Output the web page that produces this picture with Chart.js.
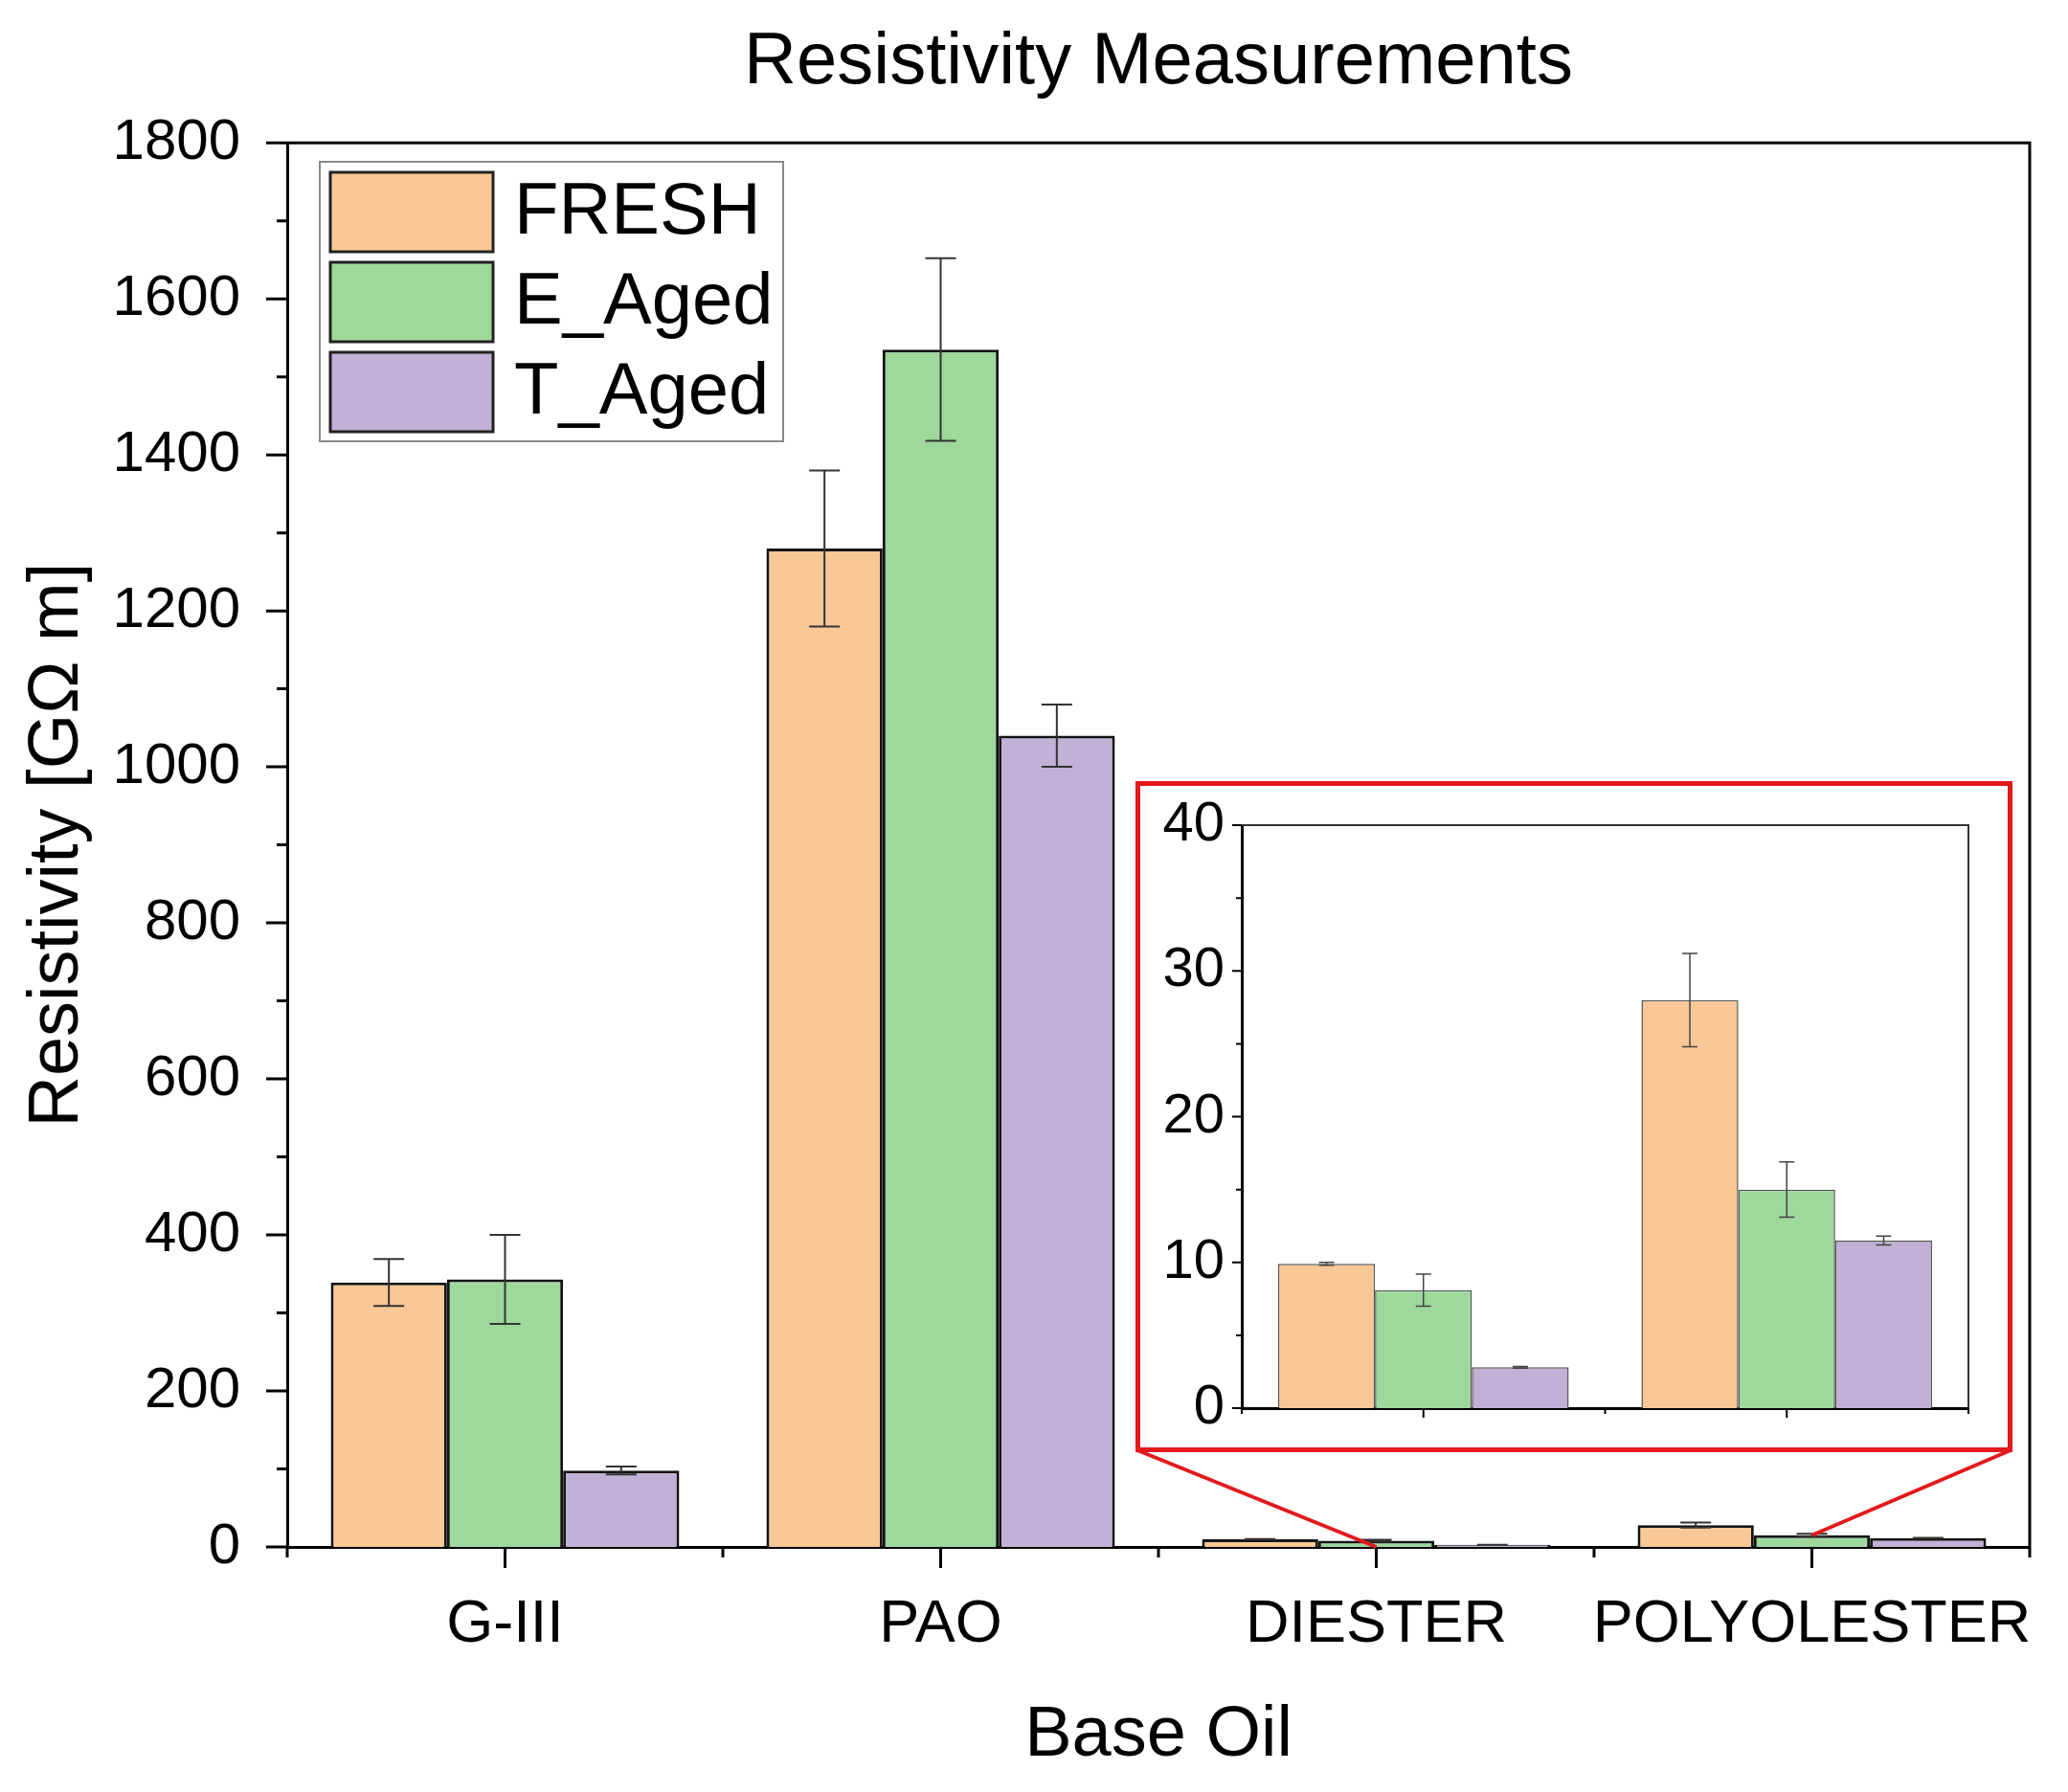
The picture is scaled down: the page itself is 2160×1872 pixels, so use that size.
<!DOCTYPE html>
<html>
<head>
<meta charset="utf-8">
<script src="https://cdn.jsdelivr.net/npm/chart.js@4.4.1/dist/chart.umd.min.js"></script>
<style>
  html, body { margin: 0; padding: 0; background: #fff; }
  #wrap { position: relative; width: 2160px; height: 1872px; }
  #main { position: absolute; left: 0; top: 0; }
  #insetBox {
    position: absolute; left: 1186px; top: 816px; width: 916px; height: 701px;
    border: 5px solid #e3191c; box-sizing: border-box; background: #fff; overflow: hidden;
  }
  #inset { position: absolute; left: 0; top: -40px; }
</style>
</head>
<body>
<div id="wrap">
  <canvas id="main" width="2160" height="1872"></canvas>
  <div id="insetBox"><canvas id="inset" width="906" height="771"></canvas></div>
</div>
<script>
// Values (G-Ohm m)
const categories = ["G-III", "PAO", "DIESTER", "POLYOLESTER"];
const seriesNames = ["FRESH", "E_Aged", "T_Aged"];
const fresh    = [339, 1280, 9.9, 28.0];
const freshErr = [30, 100, 0.1, 3.2];
const eAged    = [343, 1535, 8.1, 15.0];
const eAgedErr = [57, 117, 1.1, 1.9];
const tAged    = [98, 1040, 2.8, 11.5];
const tAgedErr = [5, 40, 0.05, 0.3];

// zoomed inset shows the last two oils
const insetIdx = [2, 3];
const mainYMax = 1800, mainYStep = 200;
const insetYMax = 40, insetYStep = 10;

const fills = ["#f9c896", "#9ed89b", "#c1b1d6"];
const FONT = "'Liberation Sans', Arial, sans-serif";
Chart.defaults.font.family = FONT;
Chart.defaults.color = "#000";

function makeDatasets(idx, border, bw) {
  const vals = [fresh, eAged, tAged];
  const errs = [freshErr, eAgedErr, tAgedErr];
  return seriesNames.map((name, s) => ({
    label: name,
    data: idx.map(i => vals[s][i]),
    errors: idx.map(i => errs[s][i]),
    backgroundColor: fills[s],
    borderColor: border,
    borderWidth: bw,
    categoryPercentage: 0.8,
    barPercentage: 1.0
  }));
}

// error bars drawn through the y scale
const errorBars = {
  id: "errorBars",
  afterDatasetsDraw(chart, args, o) {
    const ctx = chart.ctx, y = chart.scales.y;
    ctx.save();
    ctx.strokeStyle = o.color;
    ctx.lineWidth = o.width;
    chart.data.datasets.forEach((ds, i) => {
      chart.getDatasetMeta(i).data.forEach((bar, j) => {
        const v = ds.data[j], e = ds.errors[j];
        const t = y.getPixelForValue(v + e), b = y.getPixelForValue(v - e);
        ctx.beginPath();
        ctx.moveTo(bar.x, t); ctx.lineTo(bar.x, b);
        ctx.moveTo(bar.x - o.cap, t); ctx.lineTo(bar.x + o.cap, t);
        ctx.moveTo(bar.x - o.cap, b); ctx.lineTo(bar.x + o.cap, b);
        ctx.stroke();
      });
    });
    ctx.restore();
  }
};

// Origin-style frame: top/right border, outward major + minor ticks
const frameTicks = {
  id: "frameTicks",
  afterDraw(chart, args, o) {
    const { ctx, chartArea: a, scales: { x, y } } = chart;
    ctx.save();
    ctx.strokeStyle = o.frameColor;
    ctx.lineWidth = o.frameWidth;
    ctx.beginPath();
    ctx.moveTo(a.left, a.top); ctx.lineTo(a.right, a.top); ctx.lineTo(a.right, a.bottom);
    ctx.stroke();
    ctx.strokeStyle = "#000";
    ctx.lineWidth = o.tickWidth;
    ctx.beginPath();
    const yv = y.ticks.map(t => t.value);
    yv.forEach(v => {
      const p = y.getPixelForValue(v);
      ctx.moveTo(a.left - o.major, p); ctx.lineTo(a.left, p);
    });
    for (let i = 0; i < yv.length - 1; i++) {
      const p = y.getPixelForValue((yv[i] + yv[i + 1]) / 2);
      ctx.moveTo(a.left - o.minor, p); ctx.lineTo(a.left, p);
    }
    const n = x.ticks.length;
    for (let i = 0; i < n; i++) {
      const p = x.getPixelForTick(i);
      ctx.moveTo(p, a.bottom); ctx.lineTo(p, a.bottom + o.major);
    }
    for (let i = 0; i <= n; i++) {
      const p = x.getPixelForValue(i - 0.5);
      ctx.moveTo(p, a.bottom); ctx.lineTo(p, a.bottom + o.minor);
    }
    ctx.stroke();
    ctx.restore();
  }
};

// framed legend in the top-left of the plot
const boxLegend = {
  id: "boxLegend",
  afterDraw(chart, args, o) {
    const ctx = chart.ctx;
    ctx.save();
    ctx.strokeStyle = "#8a8a8a";
    ctx.lineWidth = 2;
    ctx.strokeRect(o.x, o.y, o.w, o.h);
    ctx.font = o.fontSize + "px " + FONT;
    ctx.textBaseline = "middle";
    chart.data.datasets.forEach((ds, i) => {
      const top = o.y + o.pad + i * o.row;
      ctx.fillStyle = ds.backgroundColor;
      ctx.fillRect(o.x + o.pad, top, o.sw, o.sh);
      ctx.strokeStyle = "#222";
      ctx.lineWidth = 3;
      ctx.strokeRect(o.x + o.pad, top, o.sw, o.sh);
      ctx.fillStyle = "#000";
      ctx.fillText(ds.label, o.x + o.pad + o.sw + 22, top + o.sh / 2 + 2);
    });
    ctx.restore();
  }
};

// red lines from the inset box down to the zoomed categories
const zoomLines = {
  id: "zoomLines",
  afterDraw(chart, args, o) {
    const { ctx, scales: { x, y } } = chart;
    ctx.save();
    ctx.strokeStyle = "#e3191c";
    ctx.lineWidth = 4;
    ctx.beginPath();
    ctx.moveTo(o.left, o.bottom);
    ctx.lineTo(x.getPixelForValue(insetIdx[0]), y.getPixelForValue(0));
    ctx.moveTo(o.right, o.bottom);
    ctx.lineTo(x.getPixelForValue(insetIdx[1]), y.getPixelForValue(eAged[insetIdx[1]]));
    ctx.stroke();
    ctx.restore();
  }
};

const plainNum = v => String(v);

new Chart(document.getElementById("main"), {
  type: "bar",
  data: { labels: categories, datasets: makeDatasets([0, 1, 2, 3], "#141414", 3) },
  plugins: [errorBars, frameTicks, boxLegend, zoomLines],
  options: {
    responsive: false,
    animation: false,
    devicePixelRatio: 1,
    layout: { padding: { left: 0, right: 40, top: 0, bottom: 0 } },
    plugins: {
      legend: { display: false },
      tooltip: { enabled: false },
      title: {
        display: true,
        fullSize: false,
        text: "Resistivity Measurements",
        color: "#000",
        font: { size: 76, weight: "normal" },
        padding: { top: 20, bottom: 38 }
      },
      errorBars: { color: "#333", width: 2, cap: 16 },
      frameTicks: { frameColor: "#000", frameWidth: 3, tickWidth: 3, major: 22, minor: 11 },
      boxLegend: { x: 334, y: 169, w: 484, h: 292, pad: 11, row: 94, sw: 170, sh: 83, fontSize: 76 },
      zoomLines: { left: 1188, right: 2100, bottom: 1515 }
    },
    scales: {
      x: {
        grid: { display: false, drawTicks: false },
        border: { display: true, color: "#000", width: 3 },
        ticks: { color: "#000", font: { size: 63 }, padding: 44, maxRotation: 0, minRotation: 0, autoSkip: false },
        title: { display: true, text: "Base Oil", color: "#000", font: { size: 74 }, padding: { top: 0, bottom: 14 } },
        // let the long last label hang past the frame as in the original
        afterFit: s => { s.height = 256; s.paddingLeft = 0; s.paddingRight = 0; }
      },
      y: {
        min: 0, max: mainYMax,
        grid: { display: false, drawTicks: false },
        border: { display: true, color: "#000", width: 3 },
        ticks: { stepSize: mainYStep, color: "#000", font: { size: 60 }, padding: 49, callback: plainNum },
        title: { display: true, text: "Resistivity [GΩ m]", color: "#000", font: { size: 74 }, padding: { top: 16, bottom: 0 } },
        afterFit: s => { s.width = 300; }
      }
    }
  }
});

// inset canvas is 40px taller at each end than the box; the overflow is clipped
new Chart(document.getElementById("inset"), {
  type: "bar",
  data: { labels: insetIdx.map(i => categories[i]), datasets: makeDatasets(insetIdx, "#555", 1.5) },
  plugins: [errorBars, frameTicks],
  options: {
    responsive: false,
    animation: false,
    devicePixelRatio: 1,
    layout: { padding: { left: 0, right: 41, top: 81, bottom: 0 } },
    plugins: {
      legend: { display: false },
      tooltip: { enabled: false },
      title: { display: false },
      errorBars: { color: "#444", width: 1.5, cap: 8 },
      frameTicks: { frameColor: "#333", frameWidth: 2, tickWidth: 2, major: 10, minor: 6 }
    },
    scales: {
      x: {
        grid: { display: false, drawTicks: false },
        border: { display: true, color: "#000", width: 3 },
        ticks: { display: false },
        afterFit: s => { s.height = 81; }
      },
      y: {
        min: 0, max: insetYMax,
        grid: { display: false, drawTicks: false },
        border: { display: true, color: "#000", width: 3 },
        ticks: { stepSize: insetYStep, color: "#000", font: { size: 58 }, padding: 18, callback: plainNum },
        afterFit: s => { s.width = 106; }
      }
    }
  }
});
</script>
</body>
</html>
